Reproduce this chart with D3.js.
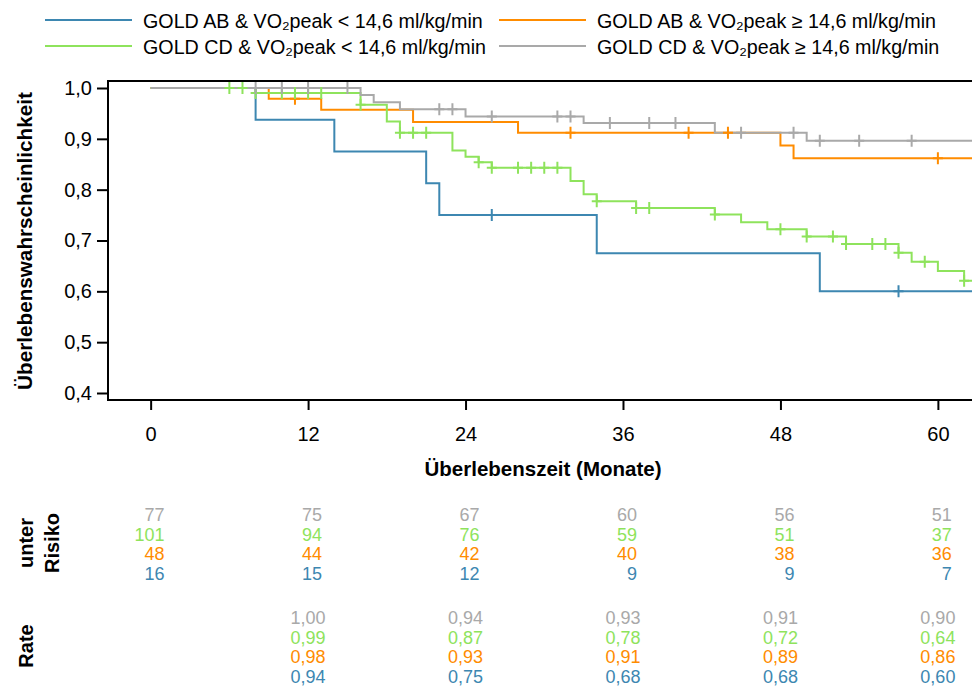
<!DOCTYPE html>
<html>
<head>
<meta charset="utf-8">
<script src="https://cdn.jsdelivr.net/npm/d3@7"></script>
<style>
  body { margin: 0; background: #fff; }
  svg { font-family: "Liberation Sans", Arial, sans-serif; display: block; }
</style>
</head>
<body>
<svg id="chart" width="972" height="688"></svg>
<script>
// group labels (legend order) and colours
var groupNames = ["GOLD AB & VO₂peak < 14,6 ml/kg/min", "GOLD AB & VO₂peak ≥ 14,6 ml/kg/min",
                  "GOLD CD & VO₂peak < 14,6 ml/kg/min", "GOLD CD & VO₂peak ≥ 14,6 ml/kg/min"];
var groupColors = ["#3d87b1", "#ff8c00", "#8ee35c", "#a9a9a9"];

// Kaplan-Meier steps: time of event (months) and survival afterwards
var abLowTimes = [0, 8, 14, 21, 22, 34, 51];
var abLowSurv  = [1, 0.9375, 0.875, 0.8125, 0.75, 0.675, 0.6];
var abLowCens  = [26, 57];

var abHighTimes = [0, 9, 13, 20, 28, 48, 49];
var abHighSurv  = [1, 0.979, 0.957, 0.933, 0.912, 0.887, 0.862];
var abHighCens  = [11, 32, 41, 44, 60];

var cdLowTimes = [0, 8, 16, 18, 19, 23, 24, 25, 26, 32, 33, 34, 37, 43, 45, 47, 50, 53, 57, 58, 60, 62];
var cdLowSurv  = [1, 0.990, 0.967, 0.934, 0.912, 0.877, 0.865, 0.854, 0.843, 0.817, 0.791, 0.777,
                  0.764, 0.751, 0.736, 0.722, 0.708, 0.693, 0.676, 0.658, 0.640, 0.621];
var cdLowCens  = [6, 7, 8, 10, 11, 12, 13, 16, 19, 20, 21, 25, 26, 28, 29, 30, 31, 34, 37, 38,
                  43, 48, 50, 52, 53, 55, 56, 57, 59, 62];

var cdHighTimes = [0, 16, 17, 19, 24, 33, 43, 50];
var cdHighSurv  = [1, 0.986, 0.972, 0.958, 0.944, 0.931, 0.912, 0.896];
var cdHighCens  = [8, 10, 12, 15, 22, 23, 26, 31, 32, 35, 38, 40, 45, 49, 51, 54, 58];

// axis ticks
var xTicks = [0, 12, 24, 36, 48, 60];
var yTicks = [0.4, 0.5, 0.6, 0.7, 0.8, 0.9, 1.0];

// numbers below the chart (rows: CD >=, CD <, AB >=, AB <)
var riskTimes = [0, 12, 24, 36, 48, 60];
var riskCdHigh = [77, 75, 67, 60, 56, 51];
var riskCdLow  = [101, 94, 76, 59, 51, 37];
var riskAbHigh = [48, 44, 42, 40, 38, 36];
var riskAbLow  = [16, 15, 12, 9, 9, 7];

var rateTimes = [12, 24, 36, 48, 60];
var rateCdHigh = ["1,00", "0,94", "0,93", "0,91", "0,90"];
var rateCdLow  = ["0,99", "0,87", "0,78", "0,72", "0,64"];
var rateAbHigh = ["0,98", "0,93", "0,91", "0,89", "0,86"];
var rateAbLow  = ["0,94", "0,75", "0,68", "0,68", "0,60"];

var series = [
    {times: abLowTimes, surv: abLowSurv, cens: abLowCens, color: groupColors[0]},
    {times: abHighTimes, surv: abHighSurv, cens: abHighCens, color: groupColors[1]},
    {times: cdLowTimes, surv: cdLowSurv, cens: cdLowCens, color: groupColors[2]},
    {times: cdHighTimes, surv: cdHighSurv, cens: cdHighCens, color: groupColors[3]}
];

var svg = d3.select("#chart");
var plotBox = {left: 108, right: 972, top: 81, bottom: 400};

var x = d3.scaleLinear().domain([-3.25, 62.6]).range([plotBox.left, plotBox.right]);
var y = d3.scaleLinear().domain([0.38623, 1.01377]).range([plotBox.bottom, plotBox.top]);

var de = d3.formatLocale({decimal: ",", thousands: ".", grouping: [3], currency: ["", "€"]});

// clip
svg.append("defs").append("clipPath").attr("id", "clip")
    .append("rect").attr("x", plotBox.left).attr("y", plotBox.top)
    .attr("width", plotBox.right - plotBox.left).attr("height", plotBox.bottom - plotBox.top);

// axes
var yAxis = svg.append("g")
    .attr("transform", "translate(" + plotBox.left + ",0)")
    .call(d3.axisLeft(y).tickValues(yTicks).tickSize(11).tickPadding(5).tickFormat(de.format(".1f")));
yAxis.select(".domain").remove();
yAxis.selectAll("line").attr("stroke", "#000").attr("stroke-width", 2);
yAxis.selectAll("text").attr("font-size", 20).attr("fill", "#000");

var xAxis = svg.append("g")
    .attr("transform", "translate(0," + plotBox.bottom + ")")
    .call(d3.axisBottom(x).tickValues(xTicks).tickSize(10));
xAxis.select(".domain").remove();
xAxis.selectAll("line").attr("stroke", "#000").attr("stroke-width", 2);
xAxis.selectAll("text").attr("font-size", 20).attr("fill", "#000").attr("y", 41).attr("dy", null);

// frame (right side runs off the picture)
svg.append("rect")
    .attr("x", plotBox.left).attr("y", plotBox.top)
    .attr("width", plotBox.right - plotBox.left + 10).attr("height", plotBox.bottom - plotBox.top)
    .attr("fill", "none").attr("stroke", "#000").attr("stroke-width", 2);

// curves
var line = d3.line()
    .x(function(d) { return x(d[0]); })
    .y(function(d) { return y(d[1]); })
    .curve(d3.curveStepAfter);

var plot = svg.append("g").attr("clip-path", "url(#clip)");

series.forEach(function(s) {
    var pts = s.times.map(function(t, i) { return [t, s.surv[i]]; });
    pts.push([x.domain()[1] + 1, s.surv[s.surv.length - 1]]);
    plot.append("path")
        .attr("d", line(pts))
        .attr("fill", "none")
        .attr("stroke", s.color)
        .attr("stroke-width", 2);
});

function survAt(s, t) {
    var v = s.surv[0];
    for (var i = 0; i < s.times.length; i++) if (s.times[i] <= t) v = s.surv[i];
    return v;
}

series.forEach(function(s) {
    var g = plot.append("g").attr("stroke", s.color).attr("stroke-width", 2);
    g.selectAll("path")
        .data(s.cens)
        .enter().append("path")
        .attr("d", function(c) {
            var cx = x(c), cy = y(survAt(s, c));
            return "M" + cx + "," + (cy - 6) + "V" + (cy + 6) + "M" + (cx - 5) + "," + cy + "H" + (cx + 5);
        });
});

// legend
var legend = svg.append("g").attr("font-size", 19.7)
    .selectAll("g")
    .data(groupNames)
    .enter().append("g")
    .attr("transform", function(d, i) {
        return "translate(" + (i % 2 ? 499 : 45) + "," + (i < 2 ? 20 : 46) + ")";
    });
legend.append("line")
    .attr("x1", 0).attr("x2", 87)
    .attr("stroke", function(d, i) { return groupColors[i]; })
    .attr("stroke-width", 2);
legend.append("text")
    .attr("x", 98).attr("y", 8)
    .text(function(d) { return d; });

// axis titles
svg.append("text")
    .attr("x", 543).attr("y", 476)
    .attr("text-anchor", "middle")
    .attr("font-size", 20.5).attr("font-weight", "bold")
    .text("Überlebenszeit (Monate)");

svg.append("text")
    .attr("transform", "translate(32,241) rotate(-90)")
    .attr("text-anchor", "middle")
    .attr("font-size", 20.7).attr("font-weight", "bold")
    .text("Überlebenswahrscheinlichkeit");

// table under the chart
var tableColors = [groupColors[3], groupColors[2], groupColors[1], groupColors[0]];
var riskRows = [riskCdHigh, riskCdLow, riskAbHigh, riskAbLow];
var rateRows = [rateCdHigh, rateCdLow, rateAbHigh, rateAbLow];
var riskY = d3.scaleLinear().domain([0, 3]).range([521, 580]);
var rateY = d3.scaleLinear().domain([0, 3]).range([624, 683]);

riskRows.forEach(function(row, r) {
    svg.append("g").attr("font-size", 18).attr("fill", tableColors[r])
        .selectAll("text").data(row).enter().append("text")
        .attr("x", function(d, i) { return x(riskTimes[i]) + 14; })
        .attr("y", riskY(r))
        .attr("text-anchor", "end")
        .text(function(d) { return d; });
});

rateRows.forEach(function(row, r) {
    svg.append("g").attr("font-size", 18).attr("fill", tableColors[r])
        .selectAll("text").data(row).enter().append("text")
        .attr("x", function(d, i) { return x(rateTimes[i]); })
        .attr("y", rateY(r))
        .attr("text-anchor", "middle")
        .text(function(d) { return d; });
});

svg.append("text")
    .attr("transform", "translate(33,543) rotate(-90)")
    .attr("text-anchor", "middle")
    .attr("font-size", 20).attr("font-weight", "bold")
    .text("unter");
svg.append("text")
    .attr("transform", "translate(59,543) rotate(-90)")
    .attr("text-anchor", "middle")
    .attr("font-size", 20).attr("font-weight", "bold")
    .text("Risiko");
svg.append("text")
    .attr("transform", "translate(33,646) rotate(-90)")
    .attr("text-anchor", "middle")
    .attr("font-size", 20).attr("font-weight", "bold")
    .text("Rate");
</script>
</body>
</html>
